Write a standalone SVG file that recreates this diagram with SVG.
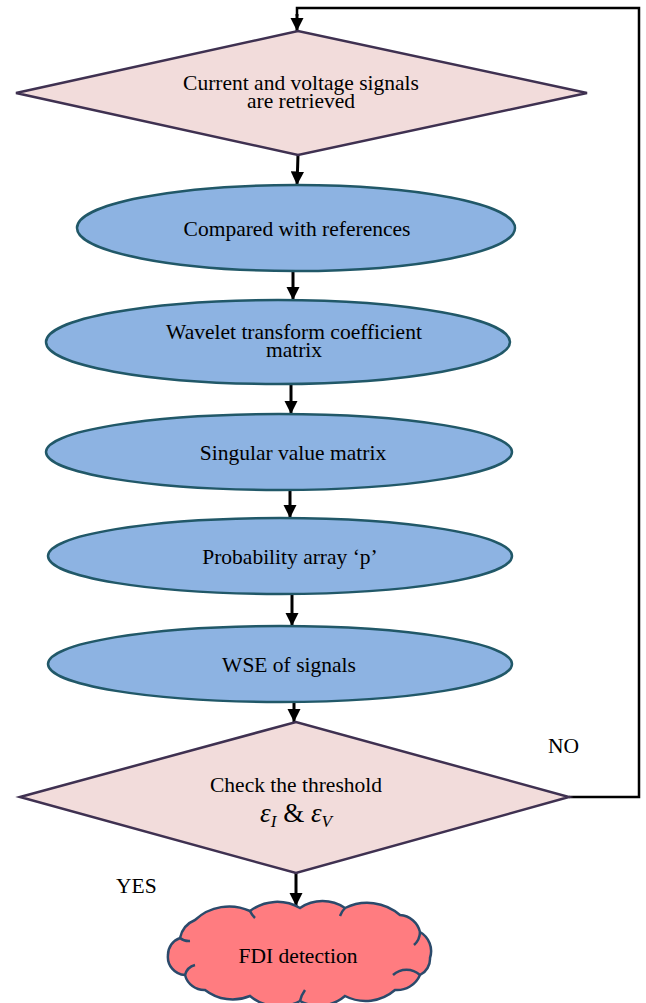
<svg xmlns="http://www.w3.org/2000/svg" width="646" height="1003" viewBox="0 0 646 1003">
<style>
.dia{fill:#f2dcdb;stroke:#3f3151;stroke-width:2.5}
.ell{fill:#8db3e2;stroke:#215868;stroke-width:2.5}
.cloud{fill:#ff7c80;stroke:#2b4a6b;stroke-width:2.5}
.t{font-family:"Liberation Serif","Times New Roman",serif;font-size:21.5px;fill:#000;text-anchor:middle}
.lbl{font-family:"Liberation Serif","Times New Roman",serif;font-size:21.5px;fill:#000}
.arr{stroke:#000;stroke-width:3;fill:none;marker-end:url(#ah)}
.ln{stroke:#000;stroke-width:2.5;fill:none}
</style>
<defs>
<marker id="ah" viewBox="0 0 10 10" refX="10" refY="5" markerWidth="4.5" markerHeight="4.5" orient="auto" markerUnits="strokeWidth">
<path d="M0,0 L10,5 L0,10 Z" fill="#000"/>
</marker>
</defs>
<g id="connectors">
<polyline class="ln" points="569,797 639,797 639,8 297,8 297,16"/>
<line class="arr" x1="297" y1="14" x2="297" y2="31"/>
<line class="arr" x1="298" y1="155" x2="297" y2="185"/>
<line class="arr" x1="293" y1="271" x2="293" y2="300"/>
<line class="arr" x1="291" y1="385" x2="291" y2="414"/>
<line class="arr" x1="290" y1="490" x2="290" y2="518"/>
<line class="arr" x1="292" y1="594" x2="292" y2="626"/>
<line class="arr" x1="294" y1="702" x2="294" y2="722"/>
<line class="arr" x1="296" y1="873" x2="296" y2="906"/>
<text class="lbl" x="548" y="753">NO</text>
<text class="lbl" x="116" y="893">YES</text>
</g>
<g id="n1">
<polygon class="dia" points="16,93 298,31 587,93 298,155"/>
<text class="t" x="301" y="90">Current and voltage signals</text>
<text class="t" x="301" y="108">are retrieved</text>
</g>
<g id="n2">
<ellipse class="ell" cx="296" cy="228" rx="219" ry="43"/>
<text class="t" x="297" y="236">Compared with references</text>
</g>
<g id="n3">
<ellipse class="ell" cx="278" cy="342" rx="232" ry="42"/>
<text class="t" x="294" y="339">Wavelet transform coefficient</text>
<text class="t" x="294" y="357">matrix</text>
</g>
<g id="n4">
<ellipse class="ell" cx="279" cy="452" rx="233" ry="38"/>
<text class="t" x="293" y="460">Singular value matrix</text>
</g>
<g id="n5">
<ellipse class="ell" cx="280" cy="556" rx="232" ry="38"/>
<text class="t" x="290" y="564">Probability array ‘p’</text>
</g>
<g id="n6">
<ellipse class="ell" cx="280" cy="664" rx="232" ry="38"/>
<text class="t" x="289" y="672">WSE of signals</text>
</g>
<g id="n7">
<polygon class="dia" points="20,797 296,722 569,797 296,873"/>
<text class="t" x="296" y="792">Check the threshold</text>
<text class="t" x="296" y="822" style="font-size:27px"><tspan font-style="italic">ε</tspan><tspan font-style="italic" font-size="17" dy="5">I</tspan><tspan dy="-5"> &amp; </tspan><tspan font-style="italic">ε</tspan><tspan font-style="italic" font-size="17" dy="5">V</tspan></text>
</g>
<g id="n8">
<path class="cloud" d="M180,938 A25,25 0 0 1 195,920 A50,50 0 0 1 250,911 A45,45 0 0 1 300,908 A40,40 0 0 1 345,908 A50,50 0 0 1 400,915 A22,22 0 0 1 420,932 A22,22 0 0 1 430,958 A18,18 0 0 1 420,975 A25,25 0 0 1 395,990 A45,45 0 0 1 345,996 A40,40 0 0 1 300,1001 A45,45 0 0 1 250,996 A45,45 0 0 1 205,990 A20,20 0 0 1 185,975 A18,18 0 0 1 168,955 A18,18 0 0 1 180,938 Z"/>
<path d="M180,938 A14,14 0 0 0 190,941 M420,975 A20,20 0 0 0 393,975 M185,975 A14,14 0 0 1 195,965 M250,911 A22,22 0 0 0 255,918 M345,908 A22,22 0 0 0 340,916 M420,932 A18,18 0 0 1 414,945 M300,1001 A30,30 0 0 1 305,990" fill="none" stroke="#2b4a6b" stroke-width="2.5"/>
<text class="t" x="298" y="963">FDI detection</text>
</g>
</svg>
